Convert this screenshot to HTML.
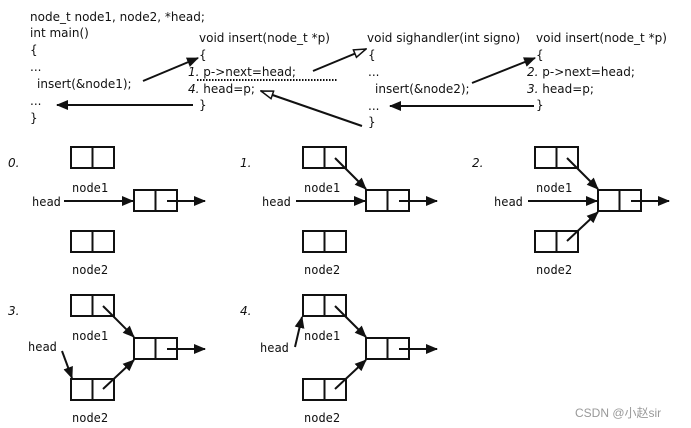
<!DOCTYPE html>
<html><head><meta charset="utf-8"><style>
html,body{margin:0;padding:0;background:#fff;}
svg{display:block;}
text{font-family:"DejaVu Sans","Liberation Sans",sans-serif;font-size:12px;fill:#111;}
.m{font-family:"DejaVu Sans Mono","Liberation Mono",monospace;font-size:12px;}
.i{font-style:italic;}
</style></head><body>
<svg width="691" height="428" viewBox="0 0 691 428" xmlns="http://www.w3.org/2000/svg">
<defs>
<marker id="f" markerWidth="12" markerHeight="10" refX="11" refY="5" orient="auto" markerUnits="userSpaceOnUse"><path d="M0,0 L12,5 L0,10z" fill="#111"/></marker>
<marker id="o" markerWidth="14" markerHeight="10" refX="13" refY="5" orient="auto" markerUnits="userSpaceOnUse"><path d="M1,1 L13,5 L1,9z" fill="#fff" stroke="#111" stroke-width="1.5"/></marker>
</defs>
<g stroke="#111" stroke-width="2" fill="none">
<line x1="143" y1="81" x2="198" y2="58" marker-end="url(#f)"/>
<line x1="193" y1="105" x2="57" y2="105" marker-end="url(#f)"/>
<line x1="313" y1="71" x2="366" y2="49" marker-end="url(#o)"/>
<line x1="362" y1="126" x2="261" y2="91" marker-end="url(#o)"/>
<line x1="472" y1="83" x2="535" y2="58" marker-end="url(#f)"/>
<line x1="534" y1="106" x2="390" y2="106" marker-end="url(#f)"/>
</g>
<line x1="197" y1="80" x2="338" y2="80" stroke="#111" stroke-width="2" stroke-dasharray="1.5,1.5"/>
<text x="30" y="21">node_t node1, node2, *head;</text>
<text x="30" y="37">int main()</text>
<text x="30" y="54">{</text>
<text x="30" y="71">...</text>
<text x="37" y="88">insert(&amp;node1);</text>
<text x="30" y="105">...</text>
<text x="30" y="122">}</text>
<text x="199" y="42">void insert(node_t *p)</text>
<text x="199" y="59">{</text>
<text x="188" y="76"><tspan class="i">1.</tspan> p-&gt;next=head;</text>
<text x="188" y="93"><tspan class="i">4.</tspan> head=p;</text>
<text x="199" y="109">}</text>
<text x="367" y="42">void sighandler(int signo)</text>
<text x="368" y="59">{</text>
<text x="368" y="76">...</text>
<text x="375" y="93">insert(&amp;node2);</text>
<text x="368" y="110">...</text>
<text x="368" y="126">}</text>
<text x="536" y="42">void insert(node_t *p)</text>
<text x="536" y="59">{</text>
<text x="527" y="76"><tspan class="i">2.</tspan> p-&gt;next=head;</text>
<text x="527" y="93"><tspan class="i">3.</tspan> head=p;</text>
<text x="536" y="109">}</text>

<g id="p0">
<text class="i" x="8" y="167">0.</text>
<g stroke="#111" stroke-width="2" fill="none">
<rect x="71" y="147" width="43" height="21"/><line x1="92.5" y1="147" x2="92.5" y2="168"/>
<rect x="134" y="190" width="43" height="21"/><line x1="155.5" y1="190" x2="155.5" y2="211"/>
<rect x="71" y="231" width="43" height="21"/><line x1="92.5" y1="231" x2="92.5" y2="252"/>
<line x1="64" y1="201" x2="133" y2="201" marker-end="url(#f)"/>
<line x1="167" y1="201" x2="205" y2="201" marker-end="url(#f)"/>
</g>
<text class="m" x="72" y="192">node1</text>
<text class="m" x="72" y="274">node2</text>
<text class="m" x="32" y="206">head</text>
</g>
<g transform="translate(232,0)">
<text class="i" x="8" y="167">1.</text>
<g stroke="#111" stroke-width="2" fill="none">
<rect x="71" y="147" width="43" height="21"/><line x1="92.5" y1="147" x2="92.5" y2="168"/>
<rect x="134" y="190" width="43" height="21"/><line x1="155.5" y1="190" x2="155.5" y2="211"/>
<rect x="71" y="231" width="43" height="21"/><line x1="92.5" y1="231" x2="92.5" y2="252"/>
<line x1="64" y1="201" x2="133" y2="201" marker-end="url(#f)"/>
<line x1="167" y1="201" x2="205" y2="201" marker-end="url(#f)"/>
<line x1="103" y1="158" x2="134" y2="189" marker-end="url(#f)"/>
</g>
<text class="m" x="72" y="192">node1</text>
<text class="m" x="72" y="274">node2</text>
<text class="m" x="30" y="206">head</text>
</g>
<g transform="translate(464,0)">
<text class="i" x="8" y="167">2.</text>
<g stroke="#111" stroke-width="2" fill="none">
<rect x="71" y="147" width="43" height="21"/><line x1="92.5" y1="147" x2="92.5" y2="168"/>
<rect x="134" y="190" width="43" height="21"/><line x1="155.5" y1="190" x2="155.5" y2="211"/>
<rect x="71" y="231" width="43" height="21"/><line x1="92.5" y1="231" x2="92.5" y2="252"/>
<line x1="64" y1="201" x2="133" y2="201" marker-end="url(#f)"/>
<line x1="167" y1="201" x2="205" y2="201" marker-end="url(#f)"/>
<line x1="103" y1="158" x2="134" y2="189" marker-end="url(#f)"/>
<line x1="103" y1="241" x2="134" y2="212" marker-end="url(#f)"/>
</g>
<text class="m" x="72" y="192">node1</text>
<text class="m" x="72" y="274">node2</text>
<text class="m" x="30" y="206">head</text>
</g>
<g transform="translate(0,148)">
<text class="i" x="8" y="167">3.</text>
<g stroke="#111" stroke-width="2" fill="none">
<rect x="71" y="147" width="43" height="21"/><line x1="92.5" y1="147" x2="92.5" y2="168"/>
<rect x="134" y="190" width="43" height="21"/><line x1="155.5" y1="190" x2="155.5" y2="211"/>
<rect x="71" y="231" width="43" height="21"/><line x1="92.5" y1="231" x2="92.5" y2="252"/>
<line x1="167" y1="201" x2="205" y2="201" marker-end="url(#f)"/>
<line x1="103" y1="158" x2="134" y2="189" marker-end="url(#f)"/>
<line x1="103" y1="241" x2="134" y2="212" marker-end="url(#f)"/>
<line x1="62" y1="203" x2="72" y2="230" marker-end="url(#f)"/>
</g>
<text class="m" x="72" y="192">node1</text>
<text class="m" x="72" y="274">node2</text>
<text class="m" x="28" y="203">head</text>
</g>
<g transform="translate(232,148)">
<text class="i" x="8" y="167">4.</text>
<g stroke="#111" stroke-width="2" fill="none">
<rect x="71" y="147" width="43" height="21"/><line x1="92.5" y1="147" x2="92.5" y2="168"/>
<rect x="134" y="190" width="43" height="21"/><line x1="155.5" y1="190" x2="155.5" y2="211"/>
<rect x="71" y="231" width="43" height="21"/><line x1="92.5" y1="231" x2="92.5" y2="252"/>
<line x1="167" y1="201" x2="205" y2="201" marker-end="url(#f)"/>
<line x1="103" y1="158" x2="134" y2="189" marker-end="url(#f)"/>
<line x1="103" y1="241" x2="134" y2="212" marker-end="url(#f)"/>
<line x1="63" y1="199" x2="70" y2="169" marker-end="url(#f)"/>
</g>
<text class="m" x="72" y="192">node1</text>
<text class="m" x="72" y="274">node2</text>
<text class="m" x="28" y="204">head</text>
</g>
<text x="575" y="417" style="font-family:'Liberation Sans','Noto Sans CJK SC',sans-serif;font-size:12px;fill:#999;">CSDN @小赵sir</text>
</svg>
</body></html>
